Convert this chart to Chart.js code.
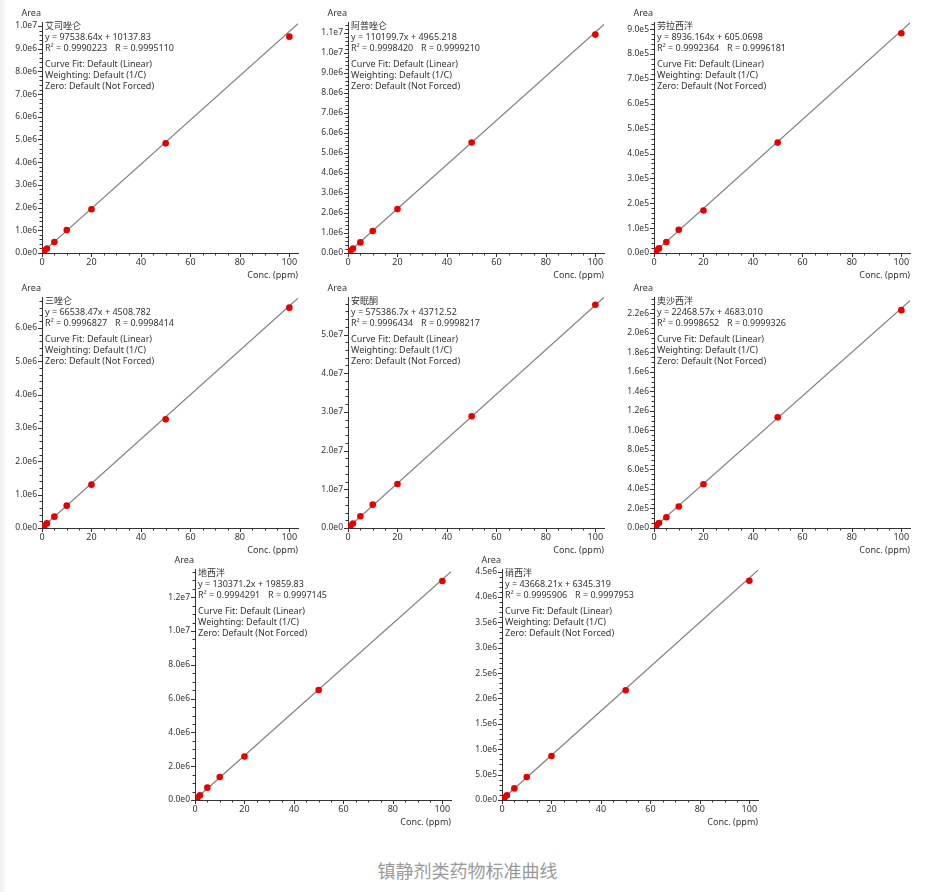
<!DOCTYPE html>
<html>
<head>
<meta charset="utf-8">
<script src="https://cdn.jsdelivr.net/npm/chart.js@4"></script>
<style>
body { margin: 0; background: #fff; width: 937px; height: 892px; position: relative; overflow: hidden; }
#edge { position: absolute; left: 0; top: 0; width: 7px; height: 892px;
        background: linear-gradient(to right, #efefef, #fff); }
.plot { position: absolute; }
#caption { position: absolute; left: 0; width: 935px; top: 857px; text-align: center;
           font: 18px "Noto Sans CJK SC", sans-serif; color: #9a9a9a; }
</style>
</head>
<body>
<div id="edge"></div>
<div id="caption">镇静剂类药物标准曲线</div>
<script>
// calibration data
const concs = [0.5, 1, 2, 5, 10, 20, 50, 100];
const names = ["艾司唑仑", "阿普唑仑", "劳拉西泮", "三唑仑", "安眠酮", "奥沙西泮", "地西泮", "硝西泮"];
const slopeText = ["97538.64", "110199.7", "8936.164", "66538.47", "575386.7", "22468.57", "130371.2", "43668.21"];
const interceptText = ["10137.83", "4965.218", "605.0698", "4508.782", "43712.52", "4683.010", "19859.83", "6345.319"];
const r2Text = ["0.9990223", "0.9998420", "0.9992364", "0.9996827", "0.9996434", "0.9998652", "0.9994291", "0.9995906"];
const rText = ["0.9995110", "0.9999210", "0.9996181", "0.9998414", "0.9998217", "0.9999326", "0.9997145", "0.9997953"];

const estazolam = [55000, 110000, 200000, 480000, 1010000, 1925000, 4830000, 9530000];
const alprazolam = [55000, 112000, 225000, 530000, 1097000, 2190000, 5515000, 10900000];
const lorazepam = [4800, 9500, 18500, 44000, 93600, 171000, 444000, 884000];
const triazolam = [35000, 70000, 138000, 340000, 670000, 1300000, 3260000, 6610000];
const methaqualone = [300000, 600000, 1180000, 3040000, 6030000, 11360000, 28900000, 57700000];
const oxazepam = [15000, 27000, 50000, 111000, 221000, 449000, 1135000, 2234000];
const diazepam = [80000, 150000, 280000, 730000, 1360000, 2570000, 6510000, 12960000];
const nitrazepam = [28000, 50000, 94000, 229000, 454000, 868000, 2163000, 4320000];
const areas = [estazolam, alprazolam, lorazepam, triazolam, methaqualone, oxazepam, diazepam, nitrazepam];

// axis ranges and tick steps
const yMax = [1.0176e7, 1.153e7, 9.29e5, 6.93e6, 5.97e7, 2.369e6, 1.367e7, 4.551e6];
const yMajor = [1e6, 1e6, 1e5, 1e6, 1e7, 2e5, 2e6, 5e5];
const yMinor = [2e5, 2e5, 2e4, 2e5, 2e6, 5e4, 5e5, 1e5];
const xMax = 103.5, xMajor = 20, xMinor = 5;

// where each plot's origin corner sits on the page
const place = [[41.7, 22], [347.7, 22], [654.3, 22], [41.7, 296.5], [347.7, 296.5], [654.3, 297], [195, 569], [501.7, 569]];

const FONT = '"Noto Sans", "Noto Sans CJK SC", sans-serif';
const Y_W = 40, TOP = 22, PLOT_W = 256, PLOT_H = 231, RIGHT = 8, BOTTOM = 30;

function sci(v) {
    if (Math.abs(v) < 1e-9) return "0.0e0";
    const e = Math.floor(Math.log10(v) + 1e-9);
    return (v / Math.pow(10, e)).toFixed(1) + "e" + e;
}

function stepTicks(step, max) {
    const t = [];
    for (let k = 0; k * step <= max * (1 + 1e-9); k++) t.push({ value: Math.round(k * step * 1e6) / 1e6 });
    return t;
}

// axis ticks (major longer than minor), labels and fit text
const decor = {
    id: "decor",
    afterDraw(chart, args, opts) {
        const { ctx, chartArea: a, scales } = chart;
        ctx.save();
        ctx.strokeStyle = "#333";
        ctx.lineWidth = 1;
        ctx.beginPath();
        scales.y.ticks.forEach(t => {
            const py = Math.round(scales.y.getPixelForValue(t.value)) + 0.5;
            const len = t.label ? 4 : 2.5;
            ctx.moveTo(a.left - len, py);
            ctx.lineTo(a.left, py);
        });
        scales.x.ticks.forEach(t => {
            const px = Math.round(scales.x.getPixelForValue(t.value)) + 0.5;
            const len = t.label ? 4 : 2.5;
            ctx.moveTo(px, a.bottom);
            ctx.lineTo(px, a.bottom + len);
        });
        ctx.stroke();

        ctx.fillStyle = "#333";
        ctx.font = "9px " + FONT;
        ctx.textBaseline = "middle";
        ctx.textAlign = "right";
        ctx.fillText("Area", a.left - 1, a.top - 9);
        ctx.fillText("Conc. (ppm)", a.right, a.bottom + 22);

        ctx.textAlign = "left";
        const i = opts.idx;
        const x0 = a.left + 3;
        ctx.fillText(names[i], x0, a.top + 4);
        ctx.fillText("y = " + slopeText[i] + "x + " + interceptText[i], x0, a.top + 15);
        ctx.fillText("R\u00B2 = " + r2Text[i], x0, a.top + 26);
        ctx.fillText("R = " + rText[i], a.left + 73, a.top + 26);
        ctx.fillText("Curve Fit: Default (Linear)", x0, a.top + 42);
        ctx.fillText("Weighting: Default (1/C)", x0, a.top + 53);
        ctx.fillText("Zero: Default (Not Forced)", x0, a.top + 64);
        ctx.restore();
    }
};

areas.forEach((vals, i) => {
    const cv = document.createElement("canvas");
    cv.className = "plot";
    cv.width = Y_W + PLOT_W + RIGHT;
    cv.height = TOP + PLOT_H + BOTTOM;
    cv.style.left = (place[i][0] - Y_W) + "px";
    cv.style.top = (place[i][1] - TOP) + "px";
    document.body.appendChild(cv);

    const slope = parseFloat(slopeText[i]);
    const icpt = parseFloat(interceptText[i]);
    const minorY = yMinor[i], perMajor = Math.round(yMajor[i] / yMinor[i]);

    new Chart(cv.getContext("2d"), {
        type: "scatter",
        data: {
            datasets: [
                {
                    data: concs.map((c, k) => ({ x: c, y: vals[k] })),
                    backgroundColor: "#e60000",
                    borderColor: "#e60000",
                    pointRadius: 3.3,
                    pointBorderWidth: 0
                },
                {
                    type: "line",
                    data: [{ x: 0, y: icpt }, { x: xMax, y: slope * xMax + icpt }],
                    borderColor: "#808080",
                    borderWidth: 1.2,
                    pointRadius: 0
                }
            ]
        },
        options: {
            responsive: false,
            animation: false,
            layout: { padding: { top: TOP, right: RIGHT, left: 0, bottom: 0 } },
            plugins: {
                legend: { display: false },
                tooltip: { enabled: false },
                decor: { idx: i }
            },
            scales: {
                x: {
                    type: "linear",
                    min: 0,
                    max: xMax,
                    afterFit: s => { s.height = BOTTOM; },
                    afterBuildTicks: s => { s.ticks = stepTicks(xMinor, xMax); },
                    border: { display: true, color: "#333", width: 1 },
                    grid: { drawOnChartArea: false, drawTicks: false },
                    ticks: {
                        autoSkip: false,
                        maxRotation: 0,
                        padding: 4,
                        color: "#333",
                        font: { family: FONT, size: 9 },
                        callback: v => (Math.round(v / xMinor) % (xMajor / xMinor) === 0 ? String(Math.round(v)) : "")
                    }
                },
                y: {
                    type: "linear",
                    min: 0,
                    max: yMax[i],
                    afterFit: s => { s.width = Y_W; },
                    afterBuildTicks: s => { s.ticks = stepTicks(minorY, yMax[i]); },
                    border: { display: true, color: "#333", width: 1 },
                    grid: { drawOnChartArea: false, drawTicks: false },
                    ticks: {
                        autoSkip: false,
                        padding: 5,
                        color: "#333",
                        font: { family: FONT, size: 8.5 },
                        callback: v => (Math.round(v / minorY) % perMajor === 0 ? sci(v) : "")
                    }
                }
            }
        },
        plugins: [decor]
    });
});
</script>
</body>
</html>
